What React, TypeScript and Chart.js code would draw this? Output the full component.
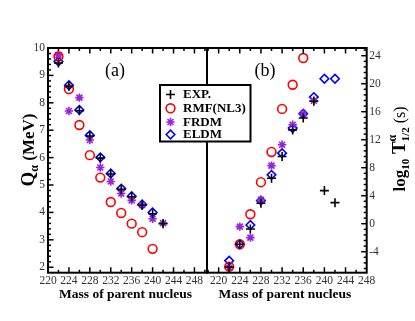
import React, { useEffect, useRef } from 'react';
import { Chart, registerables } from 'chart.js';
import { drawPoint } from 'chart.js/helpers';

Chart.register(...registerables);

// ---- data ----
const MASSES = [222, 224, 226, 228, 230, 232, 234, 236, 238, 240, 242];

// panel (a): Q_alpha (MeV)
const Q_EXP = [9.45, 8.6, 7.71, 6.79, 5.98, 5.4, 4.84, 4.57, 4.26, 3.95, 3.59];
const Q_RMF = [9.69, 8.5, 7.19, 6.09, 5.27, 4.38, 3.98, 3.59, 3.28, 2.67, null];
const Q_FRDM = [9.75, 7.7, 8.19, 6.64, 5.64, 5.13, 4.69, 4.44, 4.27, 3.77, 3.61];
const Q_ELDM = [9.51, 8.64, 7.74, 6.82, 6.01, 5.42, 4.87, 4.59, 4.29, 4.0, null];

// panel (b): log10 T1/2 (s)
const T_EXP = [-6.2, -2.94, -0.75, 2.93, 6.5, 9.6, 13.4, 15.1, 17.5, 4.73, 3.01];
const T_RMF = [-6.14, -2.94, 1.35, 5.93, 10.25, 16.4, 19.85, 23.67, null, null, null];
const T_FRDM = [-6.3, -0.42, -1.99, 3.4, 8.3, 11.27, 14.13, 15.7, 17.56, null, null];
const T_ELDM = [-5.28, -2.94, -0.18, 3.3, 6.98, 10.08, 13.66, 15.7, 18.09, 20.71, 20.71];

// ticks
const X_TICKS = [220, 224, 228, 232, 236, 240, 244, 248];
const Q_TICKS = [2, 3, 4, 5, 6, 7, 8, 9, 10];
const T_TICKS = [-4, 0, 4, 8, 12, 16, 20, 24];

const LABELS = ['EXP.', 'RMF(NL3)', 'FRDM', 'ELDM'];

// ---- styles ----
const SERIF = '"Liberation Serif", "Times New Roman", serif';
const PURPLE = '#9a22dd';
const STYLES = [
  { pointStyle: 'cross', radius: 4.5, color: '#000000' },
  { pointStyle: 'circle', radius: 4.4, color: '#ff0000' },
  { pointStyle: 'star', radius: 4.2, color: PURPLE },
  { pointStyle: 'rectRot', radius: 4.3, color: '#0000ff' },
];

function pts(ys: (number | null)[]) {
  return MASSES.map((x, i) => ({ x, y: ys[i] })).filter((p) => p.y !== null);
}

function makeDatasets(series: (number | null)[][]) {
  return series.map((ys, i) => ({
    label: LABELS[i],
    data: pts(ys),
    pointStyle: STYLES[i].pointStyle,
    pointRadius: STYLES[i].radius,
    pointHoverRadius: STYLES[i].radius,
    pointBorderWidth: 1.6,
    borderColor: STYLES[i].color,
    backgroundColor: 'rgba(0,0,0,0)',
    showLine: false,
  }));
}

type Run = { t: string; font: string; dy: number; same?: boolean };

function drawRuns(ctx: CanvasRenderingContext2D, runs: Run[], bx: number, cy: number) {
  // rotated -90deg text, baseline at screen x = bx, centered at screen y = cy
  const placed: { run: Run; x: number }[] = [];
  let cursor = 0;
  let lastStart = 0;
  for (const r of runs) {
    ctx.font = r.font;
    const w = ctx.measureText(r.t).width;
    let start: number;
    if (r.same) {
      start = lastStart;
      cursor = Math.max(cursor, start + w);
    } else {
      start = cursor;
      cursor = start + w;
    }
    lastStart = start;
    placed.push({ run: r, x: start });
  }
  const total = cursor;
  ctx.save();
  ctx.translate(bx, cy);
  ctx.rotate(-Math.PI / 2);
  ctx.fillStyle = '#000';
  ctx.textBaseline = 'alphabetic';
  ctx.textAlign = 'left';
  for (const p of placed) {
    ctx.font = p.run.font;
    ctx.fillText(p.run.t, p.x - total / 2, p.run.dy);
  }
  ctx.restore();
}

function range(from: number, to: number, step: number) {
  const out: number[] = [];
  for (let v = from; v <= to + 1e-9; v += step) out.push(Math.round(v * 1000) / 1000);
  return out;
}

function drawTicksX(ctx: CanvasRenderingContext2D, chart: any, majors: number[], minors: number[]) {
  const s = chart.scales.x;
  const a = chart.chartArea;
  const draw = (v: number, len: number) => {
    const px = s.getPixelForValue(v);
    if (px < a.left + 1 || px > a.right - 1) return;
    ctx.beginPath();
    ctx.moveTo(px, a.bottom);
    ctx.lineTo(px, a.bottom - len);
    ctx.moveTo(px, a.top);
    ctx.lineTo(px, a.top + len);
    ctx.stroke();
  };
  minors.forEach((v) => draw(v, 3));
  majors.forEach((v) => draw(v, 5.5));
}

function drawTicksY(ctx: CanvasRenderingContext2D, chart: any, majors: number[], minors: number[], side: 'left' | 'right') {
  const s = chart.scales.y;
  const a = chart.chartArea;
  const x0 = side === 'left' ? a.left : a.right;
  const dir = side === 'left' ? 1 : -1;
  const draw = (v: number, len: number) => {
    const py = s.getPixelForValue(v);
    if (py < a.top + 1 || py > a.bottom - 1) return;
    ctx.beginPath();
    ctx.moveTo(x0, py);
    ctx.lineTo(x0 + dir * len, py);
    ctx.stroke();
  };
  minors.forEach((v) => draw(v, 3));
  majors.forEach((v) => draw(v, 5.5));
}

function drawFrameAndTitle(ctx: CanvasRenderingContext2D, chart: any) {
  const a = chart.chartArea;
  ctx.save();
  ctx.strokeStyle = '#000';
  ctx.lineWidth = 2;
  ctx.strokeRect(a.left, a.top, a.right - a.left, a.bottom - a.top);
  ctx.fillStyle = '#000';
  ctx.font = `bold 13.5px ${SERIF}`;
  ctx.textAlign = 'center';
  ctx.textBaseline = 'alphabetic';
  ctx.fillText('Mass of parent nucleus', (a.left + a.right) / 2 - 2, 298);
  ctx.restore();
}

const tickFont = { family: SERIF, size: 11.5 };

const decorA = {
  id: 'decorA',
  afterDraw(chart: any) {
    const ctx = chart.ctx as CanvasRenderingContext2D;
    drawFrameAndTitle(ctx, chart);
    ctx.save();
    ctx.strokeStyle = '#000';
    ctx.lineWidth = 1.5;
    drawTicksX(ctx, chart, X_TICKS, range(222, 250, 4));
    drawTicksY(ctx, chart, Q_TICKS, range(1.8, 10, 0.2).filter((v) => Math.abs(v - Math.round(v)) > 1e-6), 'left');
    ctx.restore();
    ctx.save();
    ctx.fillStyle = '#000';
    ctx.font = `18px ${SERIF}`;
    ctx.textAlign = 'center';
    ctx.textBaseline = 'middle';
    ctx.fillText('(a)', 115, 71);
    ctx.restore();
    drawRuns(
      ctx,
      [
        { t: 'Q', font: `bold 19px ${SERIF}`, dy: 0 },
        { t: 'α', font: `bold 12px ${SERIF}`, dy: 4 },
        { t: ' (MeV)', font: `bold 17px ${SERIF}`, dy: 0 },
      ],
      34,
      150
    );
  },
};

const decorB = {
  id: 'decorB',
  afterDraw(chart: any) {
    const ctx = chart.ctx as CanvasRenderingContext2D;
    drawFrameAndTitle(ctx, chart);
    ctx.save();
    ctx.strokeStyle = '#000';
    ctx.lineWidth = 1.5;
    drawTicksX(ctx, chart, X_TICKS, range(218, 246, 4));
    const tMin = range(-6.4, 24.8, 0.8).filter((v) => Math.abs(v / 4 - Math.round(v / 4)) > 1e-6);
    drawTicksY(ctx, chart, T_TICKS, tMin, 'right');
    ctx.restore();
    ctx.save();
    ctx.fillStyle = '#000';
    ctx.font = `18px ${SERIF}`;
    ctx.textAlign = 'center';
    ctx.textBaseline = 'middle';
    ctx.fillText('(b)', 265, 71);
    ctx.restore();
    drawRuns(
      ctx,
      [
        { t: 'log', font: `bold 17px ${SERIF}`, dy: 0 },
        { t: '10', font: `bold 11px ${SERIF}`, dy: 4 },
        { t: ' T', font: `bold 19px ${SERIF}`, dy: 0 },
        { t: 'α', font: `bold 12px ${SERIF}`, dy: -9 },
        { t: '1/2', font: `bold 11px ${SERIF}`, dy: 4, same: true },
        { t: ' (s)', font: `16px ${SERIF}`, dy: 0 },
      ],
      405,
      149
    );

    // legend
    const lx = 160, ly = 85, lw = 90.5, lh = 56.5;
    ctx.save();
    ctx.fillStyle = '#fff';
    ctx.fillRect(lx, ly, lw, lh);
    ctx.strokeStyle = '#000';
    ctx.lineWidth = 2;
    ctx.strokeRect(lx, ly, lw, lh);
    const rows = [94.5, 108.3, 122, 134.5];
    LABELS.forEach((lab, i) => {
      const st = STYLES[i];
      ctx.strokeStyle = st.color;
      ctx.fillStyle = 'rgba(0,0,0,0)';
      ctx.lineWidth = 1.6;
      drawPoint(ctx, { pointStyle: st.pointStyle, radius: st.radius, rotation: 0, borderWidth: 1.6 } as any, 170.5, rows[i]);
      ctx.fillStyle = '#000';
      ctx.font = `bold 13px ${SERIF}`;
      ctx.textAlign = 'left';
      ctx.textBaseline = 'middle';
      ctx.fillText(lab, 183, rows[i] + 0.5);
    });
    ctx.restore();
  },
};

function baseX(min: number, max: number) {
  return {
    type: 'linear' as const,
    min,
    max,
    afterBuildTicks: (s: any) => {
      s.ticks = X_TICKS.map((v) => ({ value: v }));
    },
    afterFit: (s: any) => {
      s.height = 48.3;
    },
    grid: { display: false, drawTicks: false },
    border: { display: false },
    ticks: { font: tickFont, color: '#333', padding: 1, maxRotation: 0, autoSkip: false },
  };
}

export default function App() {
  const refA = useRef<HTMLCanvasElement>(null);
  const refB = useRef<HTMLCanvasElement>(null);

  useEffect(() => {
    const common = {
      responsive: false,
      animation: false as const,
      devicePixelRatio: 1,
      events: [] as any[],
      plugins: { legend: { display: false }, tooltip: { enabled: false } },
    };
    const chartA = new Chart(refA.current!, {
      type: 'scatter',
      data: { datasets: makeDatasets([Q_EXP, Q_RMF, Q_FRDM, Q_ELDM]) as any },
      options: {
        ...common,
        layout: { padding: { left: 0, top: 48, right: 208, bottom: 0 } },
        scales: {
          x: baseX(220, 250.4),
          y: {
            type: 'linear',
            position: 'left',
            min: 1.8,
            max: 10,
            afterBuildTicks: (s: any) => {
              s.ticks = Q_TICKS.map((v) => ({ value: v }));
            },
            afterFit: (s: any) => {
              s.width = 48;
            },
            grid: { display: false, drawTicks: false },
            border: { display: false },
            ticks: { font: tickFont, color: '#333', padding: 3 },
          },
        },
      } as any,
      plugins: [decorA],
    });
    const chartB = new Chart(refB.current!, {
      type: 'scatter',
      data: { datasets: makeDatasets([T_EXP, T_RMF, T_FRDM, T_ELDM]) as any },
      options: {
        ...common,
        layout: { padding: { left: 207, top: 48, right: 0, bottom: 0 } },
        scales: {
          x: baseX(217.8, 248),
          y: {
            type: 'linear',
            position: 'right',
            min: -7,
            max: 25.1,
            afterBuildTicks: (s: any) => {
              s.ticks = T_TICKS.map((v) => ({ value: v }));
            },
            afterFit: (s: any) => {
              s.width = 48.3;
            },
            grid: { display: false, drawTicks: false },
            border: { display: false },
            ticks: { font: tickFont, color: '#333', padding: 2.5 },
          },
        },
      } as any,
      plugins: [decorB],
    });
    return () => {
      chartA.destroy();
      chartB.destroy();
    };
  }, []);

  const cs: React.CSSProperties = { position: 'absolute', left: 0, top: 0, width: 415, height: 321 };
  return (
    <div style={{ position: 'absolute', left: 0, top: 0, width: 415, height: 321, background: '#fff' }}>
      <canvas ref={refA} width={415} height={321} style={cs} />
      <canvas ref={refB} width={415} height={321} style={cs} />
    </div>
  );
}
